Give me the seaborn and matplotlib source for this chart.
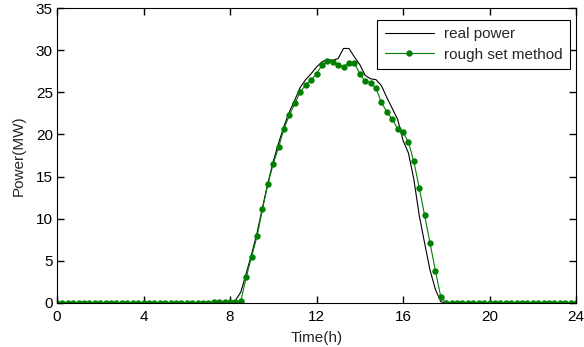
import numpy as np
import pandas as pd
import matplotlib
matplotlib.use("Agg")
import matplotlib.pyplot as plt
import seaborn as sns

hours = [i * 0.25 for i in range(97)]

# real power (MW) at 15-min resolution
real_day = [0.05, 0.3, 1.3, 3.5, 5.8, 8.3, 11.3, 14.2, 16.8, 19.0, 21.0, 22.7,
            24.1, 25.6, 26.5, 27.2, 28.0, 28.6, 28.9, 28.8, 29.0, 30.2, 30.2,
            29.2, 28.3, 27.0, 26.6, 26.5, 25.8, 24.4, 23.1, 21.8, 19.3, 17.8,
            14.7, 10.4, 7.1, 3.9, 1.6, 0.15, 0.0]          # 8.00 .. 18.00
real_power = [0.0] * 32 + real_day + [0.0] * 24

# rough set method forecast (MW)
rough_pre = [0.0] * 29 + [0.15, 0.15, 0.15, 0.15, 0.15]  # 0.00 .. 8.25
rough_day = [0.25, 3.05, 5.5, 7.9, 11.1, 14.1, 16.5, 18.5, 20.7, 22.3, 23.7,
             25.0, 25.9, 26.45, 27.2, 28.2, 28.7, 28.6, 28.2, 28.0, 28.5, 28.5,
             27.2, 26.3, 26.1, 25.5, 23.8, 22.7, 21.8, 20.7, 20.25, 19.1, 16.8,
             13.7, 10.4, 7.1, 3.8, 0.7, 0.0]                # 8.50 .. 18.00
rough_set = rough_pre + rough_day + [0.0] * 24

series_names = ["real power", "rough set method"]

df = pd.DataFrame({"Time": hours, "real": real_power, "rough": rough_set})

sns.set_style("ticks", {"xtick.direction": "in", "ytick.direction": "in",
                        "xtick.top": True, "ytick.right": True})
plt.rcParams["font.family"] = ["Liberation Sans", "DejaVu Sans"]
plt.rcParams["xtick.major.size"] = 5
plt.rcParams["ytick.major.size"] = 5
plt.rcParams["xtick.major.width"] = 1.0
plt.rcParams["ytick.major.width"] = 1.0

fig = plt.figure(figsize=(5.84, 3.47), dpi=100)
ax = fig.add_axes([57 / 584, 1 - 303 / 347, (576 - 57) / 584, (303 - 8) / 347])

sns.lineplot(data=df, x="Time", y="real", ax=ax, color="black", linewidth=0.8,
             label=series_names[0])
sns.lineplot(data=df, x="Time", y="rough", ax=ax, color="#008000", linewidth=0.8,
             marker="o", markersize=4.6, markeredgewidth=0, label=series_names[1])

ax.set_xlim(0, 24)
ax.set_ylim(0, 35)
ax.set_xticks([0, 4, 8, 12, 16, 20, 24])
ax.set_yticks([0, 5, 10, 15, 20, 25, 30, 35])
ax.tick_params(axis="both", which="major", direction="in", length=5, width=1.0,
               top=True, right=True, bottom=True, left=True,
               labelsize=11, color="black", labelcolor="black", zorder=5)
ax.tick_params(axis="x", pad=5)
ax.tick_params(axis="y", pad=3)
for s in ax.spines.values():
    s.set_visible(True)
    s.set_color("black")
    s.set_linewidth(0.8)
ax.set_xlabel("Time(h)", fontsize=11, labelpad=5)
ax.set_ylabel("Power(MW)", fontsize=11, labelpad=7)

leg = ax.legend(loc="upper right", bbox_to_anchor=(0.988, 0.96), fontsize=11,
                frameon=True, fancybox=False, handlelength=3.2, borderpad=0.5,
                labelspacing=0.4, handletextpad=0.65, borderaxespad=0)
leg.get_frame().set_edgecolor("black")
leg.get_frame().set_linewidth(0.8)
leg.get_frame().set_alpha(1)
ax.grid(False)

fig.savefig("out.png", dpi=100)
